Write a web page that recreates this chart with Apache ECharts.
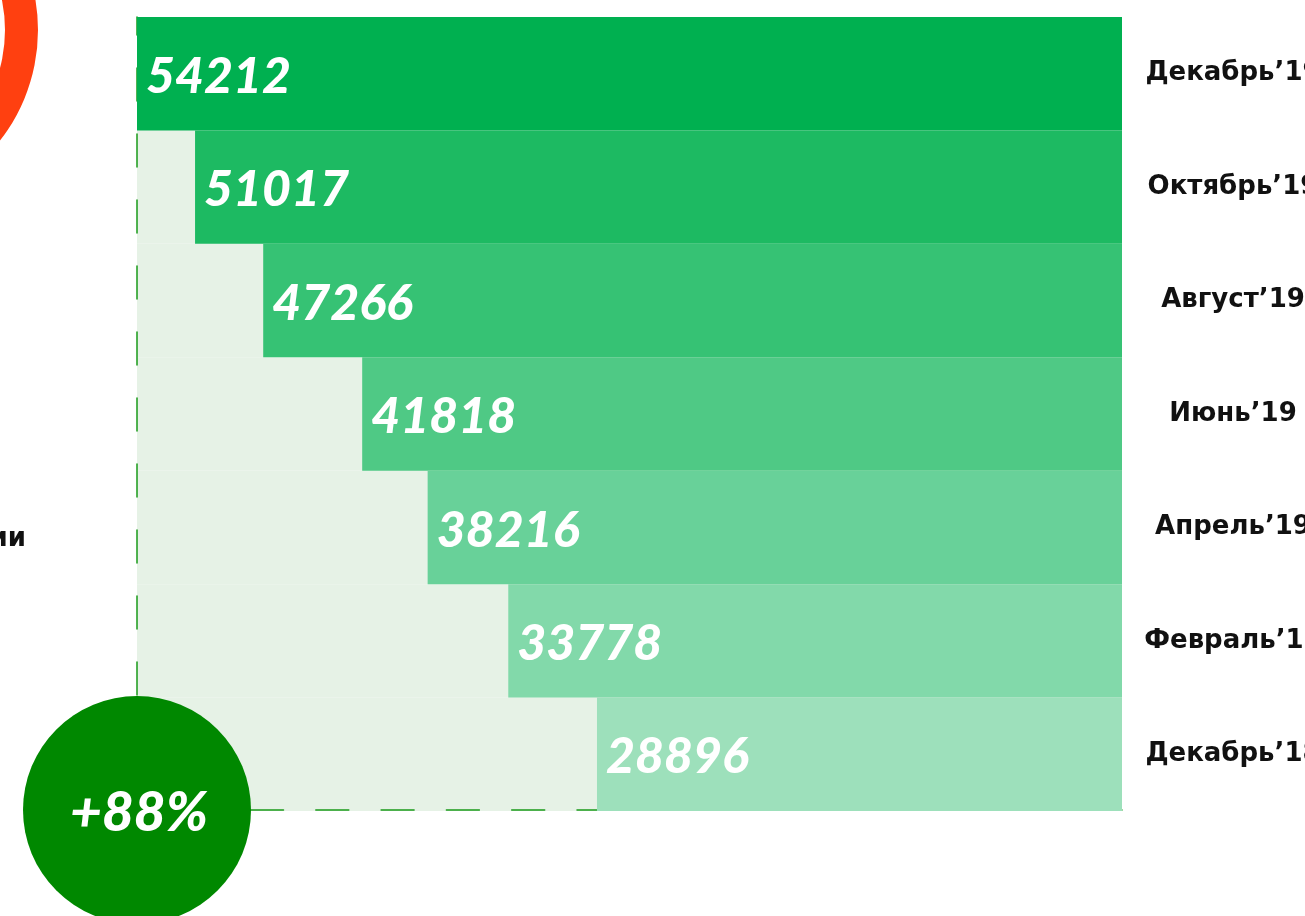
<!DOCTYPE html>
<html>
<head>
<meta charset="utf-8">
<script src="https://cdn.jsdelivr.net/npm/echarts@6/dist/echarts.min.js"></script>
<style>
  html, body { margin: 0; padding: 0; background: #fff; }
  #chart { width: 1305px; height: 916px; }
</style>
</head>
<body>
<div id="chart"></div>
<script>
var months = ['Декабрь’19', 'Октябрь’19', 'Август’19', 'Июнь’19', 'Апрель’19', 'Февраль’19', 'Декабрь’18'];
var counts = [54212, 51017, 47266, 41818, 38216, 33778, 28896];
var barColors = ['#00b050', '#1dba62', '#36c274', '#4fc985', '#68d199', '#82d9aa', '#9de0bb'];
var growthText = '+88%';
var sideText = 'ии';

var myChart = echarts.init(document.getElementById('chart'));

var option = {
  animation: false,
  grid: {
    left: 137,
    right: 183,
    top: 17,
    bottom: 105,
    containLabel: false,
    outerBoundsMode: 'none'
  },
  xAxis: {
    type: 'value',
    inverse: true,
    min: 0,
    max: 'dataMax',
    z: 1,
    offset: -1.5,
    axisLine: {
      show: true,
      lineStyle: { color: '#1a9a1a', width: 1.5, type: [33, 32.3], dashOffset: 10.4 }
    },
    axisTick: { show: false },
    axisLabel: { show: false },
    splitLine: { show: false }
  },
  yAxis: [
    {
      type: 'category',
      data: months,
      inverse: true,
      position: 'right',
      axisLine: { show: false },
      axisTick: { show: false },
      axisLabel: {
        align: 'center',
        margin: 111,
        padding: [8, 0, 0, 0],
        color: '#111',
        fontFamily: 'DejaVu Sans',
        fontWeight: 'bold',
        fontSize: 26
      }
    },
    {
      type: 'category',
      data: months,
      inverse: true,
      position: 'left',
      z: 1,
      axisLine: {
        show: true,
        lineStyle: { color: '#1a9a1a', width: 1.5, type: [33, 33], dashOffset: 15 }
      },
      axisTick: { show: false },
      axisLabel: { show: false }
    }
  ],
  series: [
    {
      // background strip only, drawn below the dashed axis lines
      type: 'bar',
      yAxisIndex: 0,
      z: 0,
      barCategoryGap: 0,
      barGap: '-100%',
      silent: true,
      showBackground: true,
      backgroundStyle: { color: '#e6f2e6' },
      itemStyle: { color: 'rgba(0,0,0,0)' },
      data: counts
    },
    {
      type: 'bar',
      yAxisIndex: 0,
      z: 2,
      barCategoryGap: 0,
      barGap: '-100%',
      data: counts.map(function(v, i) {
        return { value: v, itemStyle: { color: barColors[i] } };
      }),
      label: {
        show: true,
        position: 'insideLeft',
        offset: [4, 3],
        color: '#fff',
        fontFamily: 'Lato',
        fontStyle: 'italic',
        fontWeight: 900,
        fontSize: 50
      }
    }
  ],
  graphic: [
    {
      type: 'ring',
      shape: { cx: -142, cy: 30, r: 180, r0: 147 },
      style: { fill: '#ff4010' },
      z: 10
    },
    {
      type: 'text',
      x: 26,
      y: 539,
      style: {
        text: sideText,
        fill: '#111',
        font: 'bold 26px "DejaVu Sans"',
        align: 'right',
        verticalAlign: 'middle'
      },
      z: 10
    },
    {
      type: 'circle',
      shape: { cx: 137, cy: 810, r: 114 },
      style: { fill: '#008800' },
      z: 10
    },
    {
      type: 'text',
      x: 139,
      y: 813,
      style: {
        text: growthText,
        fill: '#fff',
        font: 'italic 900 55px Lato',
        align: 'center',
        verticalAlign: 'middle'
      },
      z: 11
    }
  ]
};

myChart.setOption(option);
</script>
</body>
</html>
